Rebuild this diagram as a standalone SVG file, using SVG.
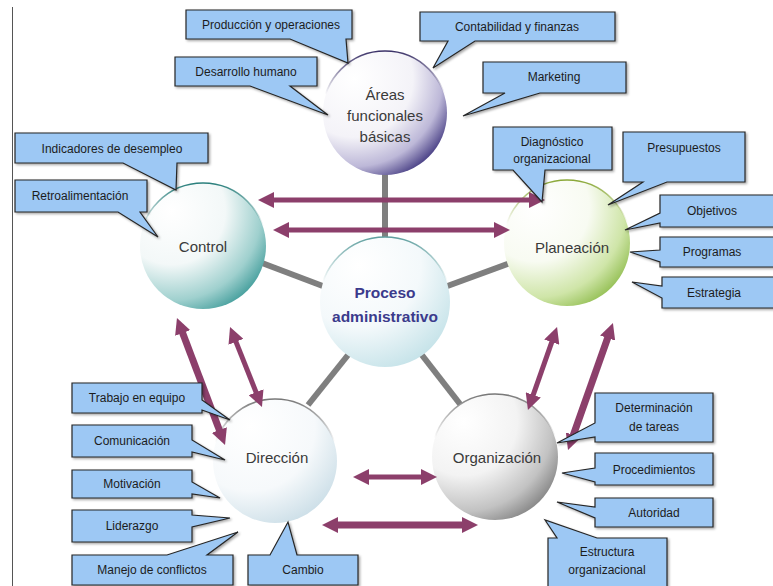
<svg xmlns="http://www.w3.org/2000/svg" width="773" height="586" viewBox="0 0 773 586">
<style>
.co{fill:#9dc8f4;stroke:#262626;stroke-width:1.2;stroke-linejoin:miter;filter:url(#sh)}
.ct{font-family:"Liberation Sans",Arial,sans-serif;font-size:12px;fill:#1c1c1c;text-anchor:middle}
.nt{font-family:"Liberation Sans",Arial,sans-serif;font-size:15px;fill:#3a3a3a;text-anchor:middle}
.pt{font-family:"Liberation Sans",Arial,sans-serif;font-size:15.5px;font-weight:bold;fill:#3b3b8c;text-anchor:middle}
.gl{stroke:#7f7f7f;stroke-width:6;fill:none}
.ar{stroke:#8c3f6b;stroke-width:5;fill:none;marker-start:url(#ah);marker-end:url(#ah)}
.tk{stroke-width:7}
</style>
<defs>
<filter id="sh" x="-10%" y="-10%" width="130%" height="140%">
<feDropShadow dx="1.5" dy="1.5" stdDeviation="0.8" flood-color="#000" flood-opacity="0.35"/>
</filter>
<marker id="ah" viewBox="0 0 16 16" refX="8" refY="8" markerWidth="16" markerHeight="16" markerUnits="userSpaceOnUse" orient="auto-start-reverse">
<path d="M0,0 L16,8 L0,16 Z" fill="#8c3f6b"/>
</marker>
<radialGradient id="gA" cx="0.25" cy="0.22" r="0.95" fx="0.25" fy="0.22">
<stop offset="0" stop-color="#ffffff"/><stop offset="0.5" stop-color="#f4f3f8"/><stop offset="0.75" stop-color="#bdb8d8"/><stop offset="0.92" stop-color="#4d4488"/><stop offset="1" stop-color="#2f2668"/>
</radialGradient>
<radialGradient id="gC" cx="0.25" cy="0.22" r="0.95" fx="0.25" fy="0.22">
<stop offset="0" stop-color="#ffffff"/><stop offset="0.45" stop-color="#f3f8f8"/><stop offset="0.75" stop-color="#9fd0ce"/><stop offset="1" stop-color="#238c8a"/>
</radialGradient>
<radialGradient id="gP" cx="0.25" cy="0.22" r="0.95" fx="0.25" fy="0.22">
<stop offset="0" stop-color="#ffffff"/><stop offset="0.45" stop-color="#f8fbf2"/><stop offset="0.75" stop-color="#cfe5a8"/><stop offset="1" stop-color="#7fb236"/>
</radialGradient>
<radialGradient id="gR" cx="0.3" cy="0.22" r="0.95" fx="0.3" fy="0.22">
<stop offset="0" stop-color="#ffffff"/><stop offset="0.5" stop-color="#f4f9fb"/><stop offset="1" stop-color="#b9dde4"/>
</radialGradient>
<radialGradient id="gD" cx="0.3" cy="0.22" r="0.95" fx="0.3" fy="0.22">
<stop offset="0" stop-color="#ffffff"/><stop offset="0.55" stop-color="#f6f9fb"/><stop offset="1" stop-color="#c0d7e2"/>
</radialGradient>
<radialGradient id="gO" cx="0.25" cy="0.22" r="0.95" fx="0.25" fy="0.22">
<stop offset="0" stop-color="#ffffff"/><stop offset="0.45" stop-color="#f3f3f3"/><stop offset="0.75" stop-color="#c2c2c2"/><stop offset="1" stop-color="#6f6f6f"/>
</radialGradient>
<linearGradient id="rA" x1="0" y1="0" x2="0" y2="1"><stop offset="0" stop-color="#3b3268"/><stop offset="0.35" stop-color="#3b3268" stop-opacity="0"/></linearGradient>
<linearGradient id="rC" x1="0" y1="0" x2="0" y2="1"><stop offset="0" stop-color="#2a7f7c"/><stop offset="0.35" stop-color="#2a7f7c" stop-opacity="0"/></linearGradient>
<linearGradient id="rP" x1="0" y1="0" x2="0" y2="1"><stop offset="0" stop-color="#8aa838"/><stop offset="0.35" stop-color="#8aa838" stop-opacity="0"/></linearGradient>
<linearGradient id="rR" x1="0" y1="0" x2="0" y2="1"><stop offset="0" stop-color="#5f9f9f"/><stop offset="0.35" stop-color="#5f9f9f" stop-opacity="0"/></linearGradient>
<linearGradient id="rG" x1="0" y1="0" x2="0" y2="1"><stop offset="0" stop-color="#777"/><stop offset="0.35" stop-color="#777" stop-opacity="0"/></linearGradient>
</defs>

<rect width="773" height="586" fill="#ffffff"/>
<line x1="12.5" y1="7" x2="12.5" y2="586" stroke="#555" stroke-width="1"/>

<g id="spokes">
<line class="gl" x1="385" y1="170" x2="385" y2="242"/>
<line class="gl" x1="262" y1="263" x2="328" y2="288"/>
<line class="gl" x1="442" y1="288" x2="510" y2="263"/>
<line class="gl" x1="352" y1="350" x2="308" y2="405"/>
<line class="gl" x1="418" y1="350" x2="460" y2="404"/>
</g>

<g id="n-areas">
<circle cx="385" cy="113" r="62" fill="url(#gA)" stroke="url(#rA)" stroke-width="1.6"/>
<text class="nt" x="385" y="100" fill="#555">Áreas</text>
<text class="nt" x="385" y="121">funcionales</text>
<text class="nt" x="385" y="142">básicas</text>
</g>
<g id="n-control">
<circle cx="203" cy="246" r="63" fill="url(#gC)" stroke="url(#rC)" stroke-width="1.6"/>
<text class="nt" x="203" y="252">Control</text>
</g>
<g id="n-planeacion">
<circle cx="567" cy="243" r="63" fill="url(#gP)" stroke="url(#rP)" stroke-width="1.6"/>
<text class="nt" x="572" y="253">Planeación</text>
</g>
<g id="n-proceso">
<circle cx="385" cy="302" r="65" fill="url(#gR)" stroke="url(#rR)" stroke-width="1.6"/>
<text class="pt" x="385" y="298">Proceso</text>
<text class="pt" x="385" y="322">administrativo</text>
</g>
<g id="n-direccion">
<circle cx="275" cy="461" r="62" fill="url(#gD)" stroke="url(#rG)" stroke-width="1.6"/>
<text class="nt" x="277" y="463">Dirección</text>
</g>
<g id="n-organizacion">
<circle cx="495" cy="457" r="63" fill="url(#gO)" stroke="url(#rG)" stroke-width="1.6"/>
<text class="nt" x="497" y="463">Organización</text>
</g>

<g id="connectors">
<line class="ar" x1="266" y1="200" x2="537" y2="200"/>
<line class="ar" x1="281" y1="230" x2="502" y2="230"/>
<line class="ar tk" x1="179.8" y1="325.5" x2="222.2" y2="437.5"/>
<line class="ar" x1="233" y1="334.4" x2="259" y2="399.6"/>
<line class="ar" x1="554.4" y1="334.6" x2="530.6" y2="402.4"/>
<line class="ar tk" x1="610.3" y1="330.5" x2="570.7" y2="442.5"/>
<line class="ar" x1="361" y1="477" x2="429" y2="477"/>
<line class="ar tk" x1="330" y1="525" x2="470" y2="525"/>
</g>

<g id="c-produccion">
<path class="co" d="M186,10 H352 V39 H346 L348,63 L290,39 H186 Z"/>
<text class="ct" x="271" y="29">Producción y operaciones</text>
</g>
<g id="c-contabilidad">
<path class="co" d="M420,12 H615 V41 H475 L433,68 L448,41 H420 Z"/>
<text class="ct" x="517" y="31">Contabilidad y finanzas</text>
</g>
<g id="c-desarrollo">
<path class="co" d="M175,57 H317 V86 H290 L328,115 L250,86 H175 Z"/>
<text class="ct" x="246" y="76">Desarrollo humano</text>
</g>
<g id="c-marketing">
<path class="co" d="M483,62 H626 V93 H540 L463,116 L505,93 H483 Z"/>
<text class="ct" x="554" y="81">Marketing</text>
</g>
<g id="c-indicadores">
<path class="co" d="M15,133 H208 V163 H177 L176,190 L123,163 H15 Z"/>
<text class="ct" x="112" y="153">Indicadores de desempleo</text>
</g>
<g id="c-retro">
<path class="co" d="M15,180 H147 V212 H140 L158,237 L118,212 H15 Z"/>
<text class="ct" x="80" y="200">Retroalimentación</text>
</g>
<g id="c-diagnostico">
<path class="co" d="M493,127 H612 V170 H545 L542,202 L513,170 H493 Z"/>
<text class="ct" x="552" y="146">Diagnóstico</text>
<text class="ct" x="552" y="163">organizacional</text>
</g>
<g id="c-presupuestos">
<path class="co" d="M623,132 H745 V182 H667 L608,205 L643,182 H623 Z"/>
<text class="ct" x="684" y="152">Presupuestos</text>
</g>
<g id="c-objetivos">
<path class="co" d="M660,195 H778 V227 H660 V223 L625,230 L660,213 Z"/>
<text class="ct" x="712" y="215">Objetivos</text>
</g>
<g id="c-programas">
<path class="co" d="M660,237 H778 V267 H660 V262 L630,252 L660,250 Z"/>
<text class="ct" x="712" y="256">Programas</text>
</g>
<g id="c-estrategia">
<path class="co" d="M662,277 H778 V308 H662 V298 L632,282 L662,286 Z"/>
<text class="ct" x="714" y="297">Estrategia</text>
</g>
<g id="c-trabajo">
<path class="co" d="M72,383 H202 V400 L230,420 L202,410 V413 H72 Z"/>
<text class="ct" x="137" y="402">Trabajo en equipo</text>
</g>
<g id="c-comunicacion">
<path class="co" d="M72,425 H192 V440 L225,460 L192,452 V457 H72 Z"/>
<text class="ct" x="132" y="445">Comunicación</text>
</g>
<g id="c-motivacion">
<path class="co" d="M72,470 H192 V482 L220,498 L192,494 V498 H72 Z"/>
<text class="ct" x="132" y="488">Motivación</text>
</g>
<g id="c-liderazgo">
<path class="co" d="M72,510 H192 V515 L230,518 L192,527 V542 H72 Z"/>
<text class="ct" x="132" y="530">Liderazgo</text>
</g>
<g id="c-manejo">
<path class="co" d="M72,555 H167 L238,532 L207,555 H233 V585 H72 Z"/>
<text class="ct" x="152" y="574">Manejo de conflictos</text>
</g>
<g id="c-cambio">
<path class="co" d="M248,555 H270 L288,522 L297,555 H358 V585 H248 Z"/>
<text class="ct" x="303" y="574">Cambio</text>
</g>
<g id="c-determinacion">
<path class="co" d="M595,393 H713 V442 H595 V437 L557,443 L595,423 Z"/>
<text class="ct" x="654" y="412">Determinación</text>
<text class="ct" x="654" y="431">de tareas</text>
</g>
<g id="c-procedimientos">
<path class="co" d="M595,453 H713 V485 H595 V482 L562,473 L595,468 Z"/>
<text class="ct" x="654" y="474">Procedimientos</text>
</g>
<g id="c-autoridad">
<path class="co" d="M595,498 H713 V527 H595 V518 L557,502 L595,507 Z"/>
<text class="ct" x="654" y="517">Autoridad</text>
</g>
<g id="c-estructura">
<path class="co" d="M548,538 H557 L545,520 L597,538 H667 V590 H548 Z"/>
<text class="ct" x="607" y="556">Estructura</text>
<text class="ct" x="607" y="574">organizacional</text>
</g>
</svg>
